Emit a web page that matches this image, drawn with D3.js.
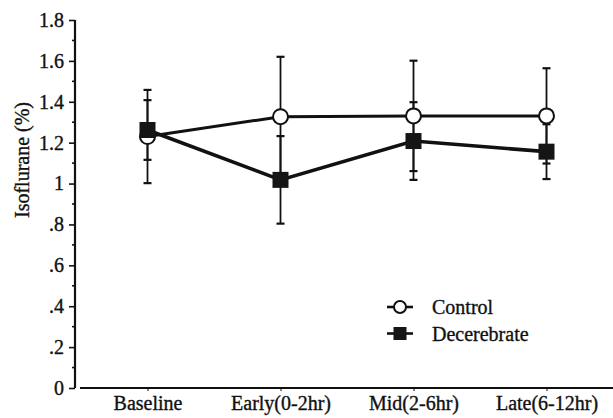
<!DOCTYPE html>
<html>
<head>
<meta charset="utf-8">
<script src="https://cdn.jsdelivr.net/npm/d3@7"></script>
<style>
  body { margin: 0; background: #fff; }
  svg { display: block; }
</style>
</head>
<body>
<div id="container"></div>
<script>
const categories = ['Baseline', 'Early(0-2hr)', 'Mid(2-6hr)', 'Late(6-12hr)'];
const controlMean = [1.23, 1.327, 1.331, 1.331];
const controlSD = [0.228, 0.293, 0.27, 0.233];
const decerebrateMean = [1.262, 1.018, 1.208, 1.156];
const decerebrateSD = [0.146, 0.214, 0.19, 0.134];
const yTicks = [0, 0.2, 0.4, 0.6, 0.8, 1, 1.2, 1.4, 1.6, 1.8];
const yMinorTicks = [0.1, 0.3, 0.5, 0.7, 0.9, 1.1, 1.3, 1.5, 1.7];
const seriesNames = ['Control', 'Decerebrate'];

const width = 613;
const height = 418;
const ink = '#111';
const serif = "'Liberation Serif', 'Times New Roman', serif";
const fontSize = '20px';

const svg = d3.select('#container').append('svg')
  .attr('width', width)
  .attr('height', height);

const x = d3.scalePoint()
  .domain(categories)
  .range([81, 613])
  .padding(0.5);

const y = d3.scaleLinear()
  .domain([0, 1.8])
  .range([388, 20]);

// 0, .2 ... 1, 1.2 ... like the original
const fmt = d => d === 0 ? '0' : d === 1 ? '1' : d < 1 ? d3.format('.1f')(d).replace(/^0/, '') : d3.format('.1f')(d);

// scanned-print look: text a bit heavier
const styleText = sel => sel
  .attr('fill', ink)
  .attr('stroke', ink)
  .attr('stroke-width', 0.35)
  .style('font-family', serif)
  .style('font-size', fontSize);

// y axis
const yAxis = svg.append('g')
  .attr('transform', 'translate(75,0)')
  .call(d3.axisLeft(y).tickValues(yTicks).tickSize(6).tickFormat(fmt));
yAxis.attr('font-family', null).attr('font-size', null);
yAxis.select('.domain').attr('d', `M0,${y(1.8)}V${y(0)}`).attr('stroke', ink).attr('stroke-width', 2.2);
yAxis.selectAll('.tick line').attr('stroke', ink).attr('stroke-width', 1.6);
yAxis.selectAll('.tick text').attr('x', -11).call(styleText);

svg.append('g')
  .attr('transform', 'translate(75,0)')
  .selectAll('line')
  .data(yMinorTicks)
  .enter()
  .append('line')
  .attr('x1', -3)
  .attr('x2', 0)
  .attr('y1', d => y(d))
  .attr('y2', d => y(d))
  .attr('stroke', ink)
  .attr('stroke-width', 1.6);

// x axis
const xAxis = svg.append('g')
  .attr('transform', `translate(0,${y(0)})`)
  .call(d3.axisBottom(x).tickSize(3).tickSizeOuter(0));
xAxis.attr('font-family', null).attr('font-size', null);
xAxis.select('.domain').attr('d', 'M80,0H613').attr('stroke', ink).attr('stroke-width', 2.2);
xAxis.selectAll('.tick line').attr('stroke', ink).attr('stroke-width', 1);
xAxis.selectAll('.tick text').attr('y', 8).call(styleText);

svg.append('text')
  .attr('transform', `translate(29,${(y(0) + y(1.8)) / 2 - 44}) rotate(-90)`)
  .attr('text-anchor', 'middle')
  .call(styleText)
  .text('Isoflurane (%)');

// error bars (mean +/- SD)
const bars = [];
categories.forEach((c, i) => {
  bars.push({ c, lo: controlMean[i] - controlSD[i], hi: controlMean[i] + controlSD[i] });
  bars.push({ c, lo: decerebrateMean[i] - decerebrateSD[i], hi: decerebrateMean[i] + decerebrateSD[i] });
});

const eb = svg.append('g');
eb.selectAll('line.stem')
  .data(bars)
  .enter()
  .append('line')
  .attr('x1', d => x(d.c))
  .attr('x2', d => x(d.c))
  .attr('y1', d => y(d.lo))
  .attr('y2', d => y(d.hi))
  .attr('stroke', ink)
  .attr('stroke-width', 1.8);

const caps = [];
bars.forEach(b => { caps.push({ c: b.c, v: b.lo }); caps.push({ c: b.c, v: b.hi }); });
eb.selectAll('line.cap')
  .data(caps)
  .enter()
  .append('line')
  .attr('x1', d => x(d.c) - 4)
  .attr('x2', d => x(d.c) + 4)
  .attr('y1', d => y(d.v))
  .attr('y2', d => y(d.v))
  .attr('stroke', ink)
  .attr('stroke-width', 2.2);

// lines
const line = d3.line().x(d => x(d.c)).y(d => y(d.v));
const controlPts = categories.map((c, i) => ({ c, v: controlMean[i] }));
const decPts = categories.map((c, i) => ({ c, v: decerebrateMean[i] }));

svg.append('path')
  .datum(controlPts)
  .attr('d', line)
  .attr('fill', 'none')
  .attr('stroke', ink)
  .attr('stroke-width', 3);

svg.append('path')
  .datum(decPts)
  .attr('d', line)
  .attr('fill', 'none')
  .attr('stroke', ink)
  .attr('stroke-width', 3.6);

// markers
svg.append('g')
  .selectAll('circle')
  .data(controlPts)
  .enter()
  .append('circle')
  .attr('cx', d => x(d.c))
  .attr('cy', d => y(d.v))
  .attr('r', 7.5)
  .attr('fill', '#fff')
  .attr('stroke', ink)
  .attr('stroke-width', 2);

svg.append('g')
  .selectAll('rect')
  .data(decPts)
  .enter()
  .append('rect')
  .attr('x', d => x(d.c) - 8)
  .attr('y', d => y(d.v) - 8)
  .attr('width', 16)
  .attr('height', 16)
  .attr('fill', '#151515');

// legend
const legend = svg.append('g').attr('transform', 'translate(387,307)');
seriesNames.forEach((name, i) => {
  const row = legend.append('g').attr('transform', `translate(0,${i * 26.5})`);
  row.append('line')
    .attr('x1', 0).attr('x2', 26)
    .attr('stroke', ink).attr('stroke-width', 2.6);
  if (i === 0) {
    row.append('circle').attr('cx', 13).attr('r', 6)
      .attr('fill', '#fff').attr('stroke', ink).attr('stroke-width', 2);
  } else {
    row.append('rect').attr('x', 6.5).attr('y', -6.5).attr('width', 13).attr('height', 13)
      .attr('fill', '#151515');
  }
  row.append('text')
    .attr('x', 45)
    .attr('dy', '0.35em')
    .call(styleText)
    .text(name);
});
</script>
</body>
</html>
